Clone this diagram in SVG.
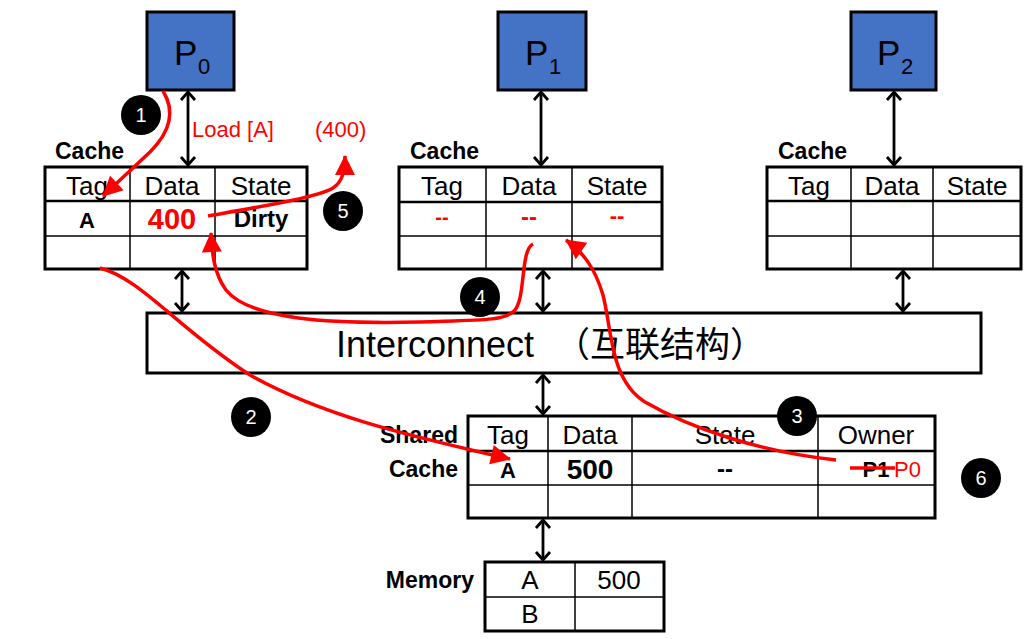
<svg xmlns="http://www.w3.org/2000/svg" width="1033" height="639" viewBox="0 0 1033 639">
<style>
text{font-family:"Liberation Sans","Noto Sans CJK SC",sans-serif;fill:#000}
.proc{fill:#4472C4;stroke:#000;stroke-width:3}
.outer{fill:#fff;stroke:#000;stroke-width:3}
.grid{stroke:#000;stroke-width:1.5;fill:none}
.hdr{stroke:#000;stroke-width:2.5;fill:none}
.h{font-size:26px;text-anchor:middle}
.b{font-weight:bold;text-anchor:middle}
.lbl{font-size:23px;font-weight:bold}
.red{fill:#FF0000}
.bar{stroke:#000;stroke-width:2.8;fill:none}
.rc{stroke:#FF0000;stroke-width:3.5;fill:none}
.num{fill:#000}
.nt{fill:#fff;font-size:20px;text-anchor:middle}
</style>
<defs>
<marker id="ah" markerUnits="userSpaceOnUse" viewBox="-12 -10 14 20" refX="0" refY="0" markerWidth="14" markerHeight="20" orient="auto-start-reverse">
<path d="M-8,-7 L0,0 L-8,7" fill="none" stroke="#000" stroke-width="2.8"/>
</marker>
<marker id="rh" markerUnits="userSpaceOnUse" viewBox="-20 -11 22 22" refX="0" refY="0" markerWidth="22" markerHeight="22" orient="auto">
<path d="M1,0 L-19,-10 L-19,10 z" fill="#FF0000"/>
</marker>
</defs>

<g id="P0"><rect class="proc" x="147" y="12" width="87" height="78"/><text x="174" y="65" font-size="35">P</text><text x="198" y="74" font-size="22">0</text></g>
<g id="P1"><rect class="proc" x="498" y="12" width="88" height="78"/><text x="525" y="65" font-size="35">P</text><text x="549" y="74" font-size="22">1</text></g>
<g id="P2"><rect class="proc" x="851" y="12" width="85" height="78"/><text x="877" y="65" font-size="35">P</text><text x="901" y="74" font-size="22">2</text></g>

<g id="cache0">
<text class="lbl" x="55" y="159">Cache</text>
<rect class="outer" x="45" y="167" width="262" height="102"/>
<line class="hdr" x1="45" y1="201" x2="307" y2="201"/>
<line class="grid" x1="45" y1="236" x2="307" y2="236"/>
<line class="grid" x1="130" y1="167" x2="130" y2="269"/>
<line class="grid" x1="215" y1="167" x2="215" y2="269"/>
<text class="h" x="87" y="195" font-size="24">Tag</text>
<text class="h" x="172" y="195">Data</text>
<text class="h" x="261" y="195">State</text>
<text class="b" x="87" y="228" font-size="22">A</text>
<text class="b red" x="172" y="229" font-size="29">400</text>
<text class="b" x="261" y="227" font-size="24">Dirty</text>
</g>

<g id="cache1">
<text class="lbl" x="410" y="159">Cache</text>
<rect class="outer" x="399" y="167" width="263" height="102"/>
<line class="hdr" x1="399" y1="202" x2="662" y2="202"/>
<line class="grid" x1="399" y1="236" x2="662" y2="236"/>
<line class="grid" x1="486" y1="167" x2="486" y2="269"/>
<line class="grid" x1="572" y1="167" x2="572" y2="269"/>
<text class="h" x="442" y="195" font-size="24">Tag</text>
<text class="h" x="529" y="195">Data</text>
<text class="h" x="617" y="195">State</text>
<text class="b red" x="442" y="224" font-size="20">--</text>
<text class="b red" x="529" y="225" font-size="24">--</text>
<text class="b red" x="617" y="223" font-size="22">--</text>
</g>

<g id="cache2">
<text class="lbl" x="778" y="159">Cache</text>
<rect class="outer" x="767" y="167" width="254" height="102"/>
<line class="hdr" x1="767" y1="201" x2="1021" y2="201"/>
<line class="grid" x1="767" y1="236" x2="1021" y2="236"/>
<line class="grid" x1="851" y1="167" x2="851" y2="269"/>
<line class="grid" x1="933" y1="167" x2="933" y2="269"/>
<text class="h" x="809" y="195" font-size="24">Tag</text>
<text class="h" x="892" y="195">Data</text>
<text class="h" x="977" y="195">State</text>
</g>

<g id="interconnect">
<rect class="outer" x="147" y="313" width="834" height="60"/>
<text x="336" y="357" font-size="36">Interconnect</text>
<text x="555" y="357" font-size="35" style="font-family:'Noto Sans CJK SC',sans-serif">（互联结构）</text>
</g>

<g id="shared">
<text class="lbl" x="458" y="443" text-anchor="end" font-size="24">Shared</text>
<text class="lbl" x="458" y="477" text-anchor="end" font-size="24">Cache</text>
<rect class="outer" x="468" y="416" width="467" height="102"/>
<line class="hdr" x1="468" y1="451" x2="935" y2="451"/>
<line class="grid" x1="468" y1="485" x2="935" y2="485"/>
<line class="grid" x1="548" y1="416" x2="548" y2="518"/>
<line class="grid" x1="632" y1="416" x2="632" y2="518"/>
<line class="grid" x1="818" y1="416" x2="818" y2="518"/>
<text class="h" x="508" y="444" font-size="24">Tag</text>
<text class="h" x="590" y="444">Data</text>
<text class="h" x="725" y="444">State</text>
<text class="h" x="876" y="444">Owner</text>
<text class="b" x="508" y="478" font-size="22">A</text>
<text class="b" x="590" y="479" font-size="28">500</text>
<text class="b" x="725" y="477" font-size="24">--</text>
<text class="b" x="876" y="477" font-size="22">P1</text>
<text class="red" x="894" y="477" font-size="22">P0</text>
<line x1="850" y1="468" x2="895" y2="468" stroke="#FF0000" stroke-width="3.5"/>
</g>

<g id="memory">
<text class="lbl" x="474" y="588" text-anchor="end" font-size="25">Memory</text>
<rect class="outer" x="485" y="562" width="179" height="69"/>
<line class="grid" x1="485" y1="597" x2="664" y2="597"/>
<line class="grid" x1="575" y1="562" x2="575" y2="631"/>
<text class="h" x="530" y="589" font-size="24">A</text>
<text class="h" x="619" y="589" font-size="24">500</text>
<text class="h" x="530" y="623" font-size="24">B</text>
</g>

<g id="connectors">
<line class="bar" x1="188" y1="92" x2="188" y2="165" marker-start="url(#ah)" marker-end="url(#ah)"/>
<line class="bar" x1="541" y1="92" x2="541" y2="165" marker-start="url(#ah)" marker-end="url(#ah)"/>
<line class="bar" x1="894" y1="92" x2="894" y2="165" marker-start="url(#ah)" marker-end="url(#ah)"/>
<line class="bar" x1="182" y1="271" x2="182" y2="311" marker-start="url(#ah)" marker-end="url(#ah)"/>
<line class="bar" x1="543" y1="271" x2="543" y2="311" marker-start="url(#ah)" marker-end="url(#ah)"/>
<line class="bar" x1="903" y1="271" x2="903" y2="311" marker-start="url(#ah)" marker-end="url(#ah)"/>
<line class="bar" x1="543" y1="375" x2="543" y2="414" marker-start="url(#ah)" marker-end="url(#ah)"/>
<line class="bar" x1="543" y1="520" x2="543" y2="560" marker-start="url(#ah)" marker-end="url(#ah)"/>
<path class="rc" d="M163,91 C176,112 170,132 150,152 L103,196" marker-end="url(#rh)"/>
<path class="rc" d="M100,268 C140,278 180,330 250,375 C330,420 430,440 510,459" marker-end="url(#rh)"/>
<path class="rc" d="M836,460 C760,452 690,428 645,402 C610,380 612,330 603,295 C595,268 583,252 566,240" marker-end="url(#rh)"/>
<path class="rc" d="M533,244 C520,250 526,300 514,311 C504,321 480,320 420,322 C330,324 250,320 226,290 C215,275 212,256 211,233" marker-end="url(#rh)"/>
<path class="rc" d="M208,216 C270,205 318,197 333,188 C342,182 345,172 345,156" marker-end="url(#rh)"/>
<text class="red" x="192" y="137" font-size="22">Load [A]</text>
<text class="red" x="315" y="137" font-size="22">(400)</text>
</g>

<g id="badges">
<circle class="num" cx="141" cy="115" r="20"/><text class="nt" x="141" y="122">1</text>
<circle class="num" cx="251" cy="417" r="20"/><text class="nt" x="251" y="424">2</text>
<circle class="num" cx="797" cy="416" r="20"/><text class="nt" x="797" y="423">3</text>
<circle class="num" cx="480" cy="297" r="20"/><text class="nt" x="480" y="304">4</text>
<circle class="num" cx="343" cy="211" r="20"/><text class="nt" x="343" y="218">5</text>
<circle class="num" cx="981" cy="478" r="20"/><text class="nt" x="981" y="485">6</text>
</g>
</svg>
